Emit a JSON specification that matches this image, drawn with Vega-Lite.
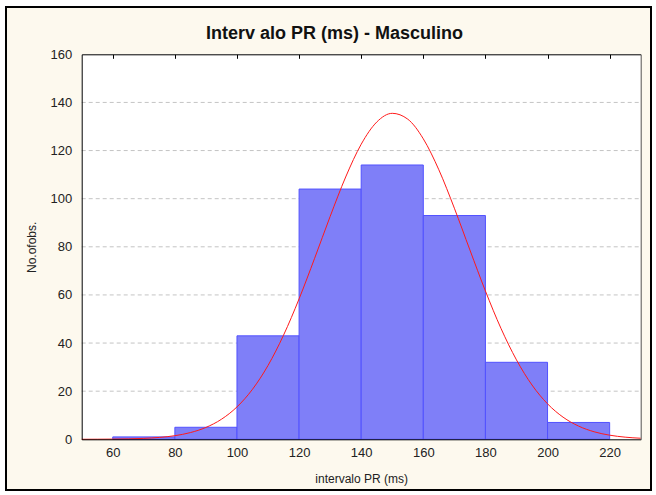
{
  "$schema": "https://vega.github.io/schema/vega-lite/v6.json",
  "width": 645,
  "height": 483,
  "autosize": {"type": "none"},
  "padding": {"left": 6, "top": 7, "right": 5, "bottom": 5},
  "background": "#ffffff",
  "title": {
    "text": "Interv alo PR (ms) - Masculino",
    "font": "Liberation Sans",
    "fontSize": 18,
    "fontWeight": "bold",
    "color": "#111111",
    "anchor": "middle",
    "baseline": "middle",
    "dx": 6,
    "offset": -45
  },
  "config": {
    "view": {"fill": "#fdf9ee", "stroke": "#000000", "strokeWidth": 2},
    "axis": {
      "labelFont": "Liberation Sans",
      "labelFontSize": 13,
      "labelColor": "#222222",
      "titleFont": "Liberation Sans",
      "titleFontSize": 12,
      "titleFontWeight": "normal",
      "titleColor": "#222222",
      "domainColor": "#000000",
      "domainWidth": 1
    }
  },
  "datasets": {
    "bars": [
      {"start": 60, "end": 80, "count": 1},
      {"start": 80, "end": 100, "count": 5},
      {"start": 100, "end": 120, "count": 43},
      {"start": 120, "end": 140, "count": 104},
      {"start": 140, "end": 160, "count": 114},
      {"start": 160, "end": 180, "count": 93},
      {"start": 180, "end": 200, "count": 32},
      {"start": 200, "end": 220, "count": 7}
    ],
    "grid": [
      {"level": 20}, {"level": 40}, {"level": 60}, {"level": 80},
      {"level": 100}, {"level": 120}, {"level": 140}
    ],
    "curve": [
      {"x": 50, "y": 0.01}, {"x": 55, "y": 0.04}, {"x": 60, "y": 0.08},
      {"x": 65, "y": 0.18}, {"x": 70, "y": 0.38}, {"x": 75, "y": 0.78},
      {"x": 80, "y": 1.5}, {"x": 85, "y": 2.79}, {"x": 90, "y": 4.93},
      {"x": 95, "y": 8.33}, {"x": 100, "y": 13.46}, {"x": 105, "y": 20.79},
      {"x": 110, "y": 30.69}, {"x": 115, "y": 43.29}, {"x": 120, "y": 58.37},
      {"x": 125, "y": 75.21}, {"x": 130, "y": 92.61}, {"x": 135, "y": 109.01},
      {"x": 140, "y": 122.63}, {"x": 145, "y": 131.84}, {"x": 150, "y": 135.47},
      {"x": 155, "y": 133.04}, {"x": 160, "y": 124.87}, {"x": 165, "y": 112.01},
      {"x": 170, "y": 96.04}, {"x": 175, "y": 78.69}, {"x": 180, "y": 61.63},
      {"x": 185, "y": 46.12}, {"x": 190, "y": 33.0}, {"x": 195, "y": 22.56},
      {"x": 200, "y": 14.74}, {"x": 205, "y": 9.2}, {"x": 210, "y": 5.49},
      {"x": 215, "y": 3.13}, {"x": 220, "y": 1.71}, {"x": 225, "y": 0.89},
      {"x": 230, "y": 0.44}
    ]
  },
  "resolve": {"axis": {"x": "independent", "y": "independent"}},
  "layer": [
    {
      "data": {"values": [{}]},
      "mark": {"type": "rect", "fill": "#ffffff", "stroke": null},
      "encoding": {
        "x": {"datum": 50, "type": "quantitative", "axis": null},
        "x2": {"datum": 230},
        "y": {"datum": 0, "type": "quantitative", "axis": null},
        "y2": {"datum": 160}
      }
    },
    {
      "data": {"name": "grid"},
      "mark": {"type": "rule", "color": "#c4c4c4", "strokeWidth": 1, "strokeDash": [4, 3]},
      "encoding": {
        "y": {"field": "level", "type": "quantitative", "axis": null},
        "x": {"datum": 50, "type": "quantitative", "axis": null},
        "x2": {"datum": 230}
      }
    },
    {
      "data": {"name": "bars"},
      "mark": {"type": "rect", "fill": "#7f7ff8", "stroke": "#5252ff", "strokeWidth": 1},
      "encoding": {
        "x": {
          "field": "start",
          "type": "quantitative",
          "scale": {"domain": [50, 230], "nice": false, "zero": false, "range": [75.7, 634.7]},
          "axis": {
            "orient": "bottom",
            "offset": -50.7,
            "zindex": 1,
            "values": [60, 80, 100, 120, 140, 160, 180, 200, 220],
            "ticks": false,
            "domain": true,
            "grid": false,
            "labelPadding": 7,
            "title": "intervalo PR (ms)",
            "titlePadding": 14
          }
        },
        "x2": {"field": "end"},
        "y": {
          "field": "count",
          "type": "quantitative",
          "scale": {"domain": [0, 160], "nice": false, "zero": true, "range": [432.3, 47.3]},
          "axis": {
            "orient": "left",
            "offset": -75.7,
            "zindex": 1,
            "values": [0, 20, 40, 60, 80, 100, 120, 140, 160],
            "ticks": false,
            "domain": true,
            "grid": false,
            "labelPadding": 10,
            "title": "No.ofobs.",
            "titlePadding": 12
          }
        },
        "y2": {"datum": 0}
      }
    },
    {
      "data": {"name": "curve"},
      "mark": {"type": "line", "color": "#ff1a1a", "strokeWidth": 1, "interpolate": "monotone"},
      "encoding": {
        "x": {
          "field": "x",
          "type": "quantitative",
          "axis": {
            "orient": "top",
            "offset": -47.3,
            "zindex": 1,
            "values": [60, 80, 100, 120, 140, 160, 180, 200, 220],
            "labels": false,
            "domain": true,
            "grid": false,
            "ticks": true,
            "tickSize": -4,
            "tickWidth": 1,
            "tickColor": "#000000",
            "title": null
          }
        },
        "y": {
          "field": "y",
          "type": "quantitative",
          "axis": {
            "orient": "right",
            "offset": -10.3,
            "zindex": 1,
            "labels": false,
            "ticks": false,
            "grid": false,
            "domain": true,
            "domainColor": "#555555",
            "title": null
          }
        }
      }
    }
  ]
}
